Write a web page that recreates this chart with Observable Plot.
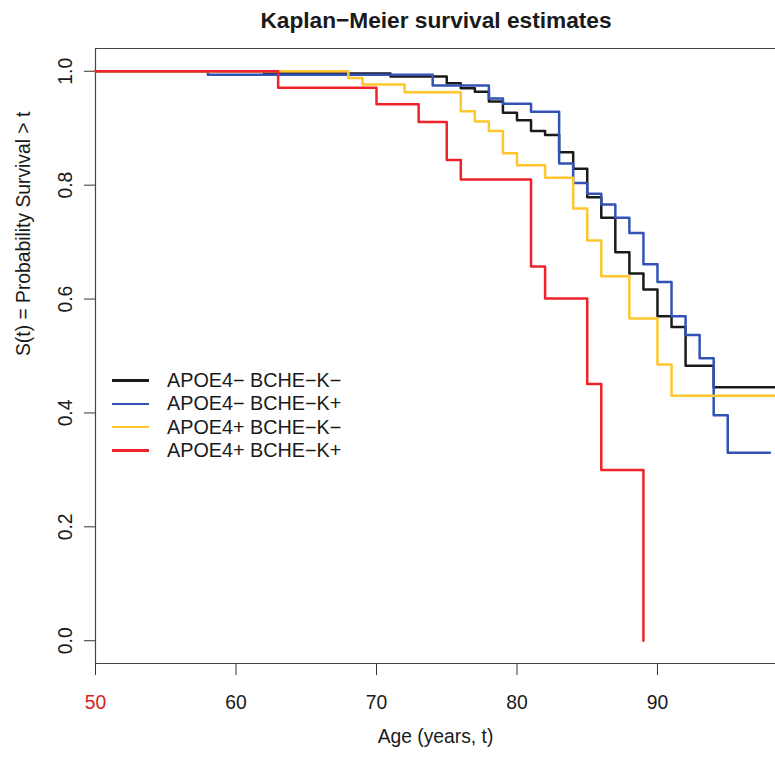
<!DOCTYPE html>
<html><head><meta charset="utf-8">
<script src="https://cdn.jsdelivr.net/npm/d3@7"></script>
<script src="https://cdn.jsdelivr.net/npm/@observablehq/plot@0.6"></script>
<style>
body{margin:0;background:#fff;}
#wrap{position:relative;width:775px;height:760px;font-family:"Liberation Sans",Arial,Helvetica,sans-serif;color:#1a1a1a;overflow:hidden;background:#fff}
#title{height:38px;line-height:40px;font-size:22.7px;font-weight:bold;text-align:center;padding-left:97px;box-sizing:border-box;width:775px}
#legend{position:absolute;left:112px;top:369px;font-size:19.8px;line-height:23.3px}
.row{display:flex;align-items:center;height:23.3px;white-space:nowrap}
.sw{width:37px;height:2.5px;margin-right:18px}
</style></head>
<body><div id="wrap"><div id="title">Kaplan−Meier survival estimates</div><div id="chart"></div><div id="legend"></div></div>
<script>
// Groups and colours
const groups = ["APOE4− BCHE−K−", "APOE4− BCHE−K+", "APOE4+ BCHE−K−", "APOE4+ BCHE−K+"];
const colors = ["#1a1a1a", "#3253b5", "#ffc62e", "#f0222a"];

// Step survival curves (age at change, survival after change)
const ageBlack  = [50, 62, 71, 75, 76, 77, 78, 79, 80, 81, 82, 83, 84, 85, 86, 87, 88, 89, 90, 91, 92, 94, 98.4];
const survBlack = [1, 0.996, 0.991, 0.979, 0.970, 0.964, 0.947, 0.927, 0.914, 0.895, 0.888, 0.858, 0.829, 0.779, 0.743, 0.682, 0.645, 0.617, 0.570, 0.551, 0.483, 0.445, 0.445];

const ageBlue  = [50, 58, 74, 78, 79, 81, 83, 84, 85, 86, 87, 88, 89, 90, 91, 92, 93, 94, 95, 98];
const survBlue = [1, 0.994, 0.975, 0.952, 0.943, 0.929, 0.838, 0.804, 0.785, 0.766, 0.743, 0.716, 0.661, 0.630, 0.570, 0.537, 0.496, 0.396, 0.330, 0.330];

const ageYellow  = [50, 68, 69, 72, 76, 77, 78, 79, 80, 82, 84, 85, 86, 88, 90, 91, 98.4];
const survYellow = [1, 0.988, 0.977, 0.963, 0.930, 0.912, 0.895, 0.856, 0.835, 0.813, 0.759, 0.703, 0.640, 0.566, 0.485, 0.430, 0.430];

const ageRed  = [50, 63, 70, 73, 75, 76, 81, 82, 85, 86, 89];
const survRed = [1, 0.971, 0.942, 0.911, 0.844, 0.810, 0.657, 0.601, 0.451, 0.300, 0];

// Axis ticks and labels
const xTicks = [50, 60, 70, 80, 90];
const yTicks = [0, 0.2, 0.4, 0.6, 0.8, 1.0];
const xLabel = "Age (years, t)";
const yLabel = "S(t) = Probability Survival > t";

const series = (ages, surv) => ages.map((a, i) => ({age: a, surv: surv[i]}));
const curves = [
  series(ageBlack, survBlack),
  series(ageBlue, survBlue),
  series(ageYellow, survYellow),
  series(ageRed, survRed)
];

const font = '"Liberation Sans", Arial, Helvetica, sans-serif';
const plot = Plot.plot({
  width: 775,
  height: 722,
  marginTop: 10,
  marginBottom: 97,
  marginLeft: 95,
  marginRight: 0,
  style: {fontSize: "19.3px", fontFamily: font, color: "#1a1a1a", background: "white", overflow: "visible"},
  x: {domain: [50, 98.4]},
  y: {domain: [-0.04, 1.04]},
  marks: [
    Plot.ruleY([-0.04, 1.04], {stroke: "#444", strokeWidth: 1.2}),
    Plot.ruleX([50], {stroke: "#444", strokeWidth: 1.2}),
    Plot.axisX({ticks: xTicks, tickSize: 12, tickPadding: 20, label: null, stroke: "#333", tickFormat: d => String(d)}),
    Plot.axisY({ticks: yTicks, tickSize: 11, tickPadding: 13, tickRotate: -90, tickFormat: d3.format(".1f"), label: null, stroke: "#333"}),
    ...curves.map((c, i) => Plot.line(c, {x: "age", y: "surv", curve: "step-after", stroke: colors[i], strokeWidth: 2.5})),
    Plot.text([xLabel], {frameAnchor: "bottom", dy: 79, fill: "#1a1a1a"}),
    Plot.text([yLabel], {frameAnchor: "left", rotate: -90, dx: -72, fill: "#1a1a1a"})
  ]
});
plot.querySelectorAll("text").forEach(t => { if (t.textContent === "50") t.setAttribute("fill", "#d62020"); });
document.getElementById("chart").appendChild(plot);

const legend = document.getElementById("legend");
groups.forEach((g, i) => {
  const row = document.createElement("div");
  row.className = "row";
  const sw = document.createElement("span");
  sw.className = "sw";
  sw.style.background = colors[i];
  const tx = document.createElement("span");
  tx.textContent = g;
  row.appendChild(sw); row.appendChild(tx);
  legend.appendChild(row);
});
</script>
</body></html>
